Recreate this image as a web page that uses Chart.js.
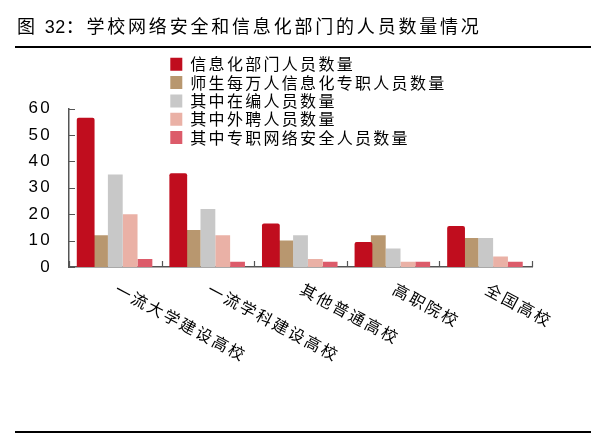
<!DOCTYPE html>
<html>
<head>
<meta charset="utf-8">
<script src="https://cdn.jsdelivr.net/npm/chart.js@4.4.1/dist/chart.umd.min.js"></script>
<style>
  body { margin: 0; background: #fff; }
  #wrap { position: relative; width: 605px; height: 435px; }
  #title { position: absolute; left: 17px; top: 12px; font: 18px "Noto Sans CJK SC"; letter-spacing: 2.8px; color: #000; white-space: nowrap; }
  #title .num { font-family: "Liberation Sans"; letter-spacing: 0.5px; }
  .rule { position: absolute; left: 15px; width: 576px; height: 2px; background: #000; }
  canvas { position: absolute; left: 0; top: 0; }
</style>
</head>
<body>
<div id="wrap">
  <canvas id="chart" width="605" height="435"></canvas>
  <div id="title">图 <span class="num">32</span>：学校网络安全和信息化部门的人员数量情况</div>
  <div class="rule" style="top:46px"></div>
  <div class="rule" style="top:431px"></div>
</div>
<script>
// categories & series
const categories = ['一流大学建设高校', '一流学科建设高校', '其他普通高校', '高职院校', '全国高校'];
const seriesNames = ['信息化部门人员数量', '师生每万人信息化专职人员数量', '其中在编人员数量', '其中外聘人员数量', '其中专职网络安全人员数量'];
const deptStaff = [56.5, 35.5, 16.5, 9.5, 15.5];
const staffPer10k = [12, 14, 10, 12, 11];
const establishedStaff = [35, 22, 12, 7, 11];
const contractStaff = [20, 12, 3, 2, 4];
const securityStaff = [3, 2, 2, 2, 2];
const yTicks = [0, 10, 20, 30, 40, 50, 60];

const colors = ['#C00D1E', '#B8976F', '#C8C8C8', '#EAB1A6', '#DC5B6A'];
const allValues = [deptStaff, staffPer10k, establishedStaff, contractStaff, securityStaff];

const cjk = '"Noto Sans CJK SC"';

// legend sits inside the plot, custom ticks + rotated labels
const extras = {
  id: 'extras',
  beforeLayout(chart) { chart.ctx.letterSpacing = '2.3px'; },
  afterLayout(chart) {
    const lg = chart.legend;
    const w = lg.width, h = lg.height;
    lg.left = 170 - 2; lg.top = 54; lg.right = lg.left + w; lg.bottom = lg.top + h;
  },
  beforeDraw(chart) { chart.ctx.letterSpacing = '2.3px'; },
  afterDraw(chart) {
    const ctx = chart.ctx, xs = chart.scales.x, ys = chart.scales.y;
    const half = (xs.getPixelForValue(1) - xs.getPixelForValue(0)) / 2;
    ctx.save();
    ctx.strokeStyle = '#555';
    ctx.lineWidth = 1.2;
    ctx.beginPath();
    yTicks.forEach(v => {
      const y = Math.round(ys.getPixelForValue(v)) + 0.5;
      ctx.moveTo(ys.right, y); ctx.lineTo(ys.right + 6, y);
    });
    for (let i = 0; i <= categories.length; i++) {
      const x = Math.round(xs.getPixelForValue(i) - half) + 0.5;
      ctx.moveTo(x, ys.bottom); ctx.lineTo(x, ys.bottom - 6);
    }
    ctx.stroke();

    ctx.fillStyle = '#000';
    ctx.font = '16px ' + cjk;
    ctx.letterSpacing = '2.3px';
    ctx.textAlign = 'left';
    ctx.textBaseline = 'middle';
    categories.forEach((c, i) => {
      ctx.save();
      ctx.translate(xs.getPixelForValue(i) + 1, ys.bottom + 21);
      ctx.rotate(28 * Math.PI / 180);
      ctx.fillText(c, 0, 0);
      ctx.restore();
    });
    ctx.restore();
  }
};

new Chart(document.getElementById('chart'), {
  type: 'bar',
  data: {
    labels: categories,
    datasets: seriesNames.map((name, i) => ({
      label: name,
      data: allValues[i],
      backgroundColor: colors[i],
      borderWidth: 0,
      borderRadius: i === 0 ? 2 : 0,
      barPercentage: i === 0 ? 1.2 : 1,
      categoryPercentage: 0.8
    }))
  },
  options: {
    responsive: false,
    animation: false,
    devicePixelRatio: 1,
    layout: { padding: { left: 0, right: 73, top: 108.5, bottom: 168 } },
    plugins: {
      tooltip: { enabled: false },
      legend: {
        position: 'chartArea',
        align: 'start',
        labels: {
          boxWidth: 12,
          boxHeight: 13,
          padding: 2.3,
          color: '#000',
          font: { family: cjk, size: 16 }
        }
      }
    },
    scales: {
      x: {
        afterFit: s => { s.height = 0; },
        grid: { display: false },
        ticks: { display: false },
        border: { display: true, color: '#555', width: 1.5 }
      },
      y: {
        min: 0,
        max: 60,
        afterFit: s => { s.width = 69; },
        afterBuildTicks: s => { s.ticks = yTicks.map(v => ({ value: v })); },
        grid: { display: false, drawTicks: false },
        border: { display: true, color: '#555', width: 1.5 },
        ticks: {
          padding: 17,
          color: '#000',
          font: { family: '"Liberation Sans"', size: 17 }
        }
      }
    }
  },
  plugins: [extras]
});
</script>
</body>
</html>
